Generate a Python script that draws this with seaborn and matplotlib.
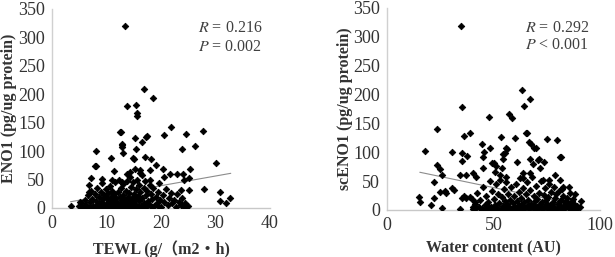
import matplotlib
matplotlib.use("Agg")
import matplotlib.pyplot as plt
import seaborn as sns
import pandas as pd
import numpy as np

# ---------------- data ----------------
tewl_x = [13.4, 16.8, 18.5, 13.7, 15.5, 15.6, 15.6, 12.6, 21.9, 27.7, 24.6, 20.6, 17.3, 15.2,
          26.3, 23.8, 12.8, 12.9, 16.5, 8.1, 30.0, 8.1, 10.9, 13.1, 14.8, 15.4, 17.0, 18.1,
          19.0, 20.4, 21.7, 22.9, 24.0, 25.3, 25.1, 24.2, 23.7, 25.2, 27.9, 30.8, 30.9, 31.9,
          32.7, 7.1, 6.8, 11.4, 13.7, 16.1, 18.0, 20.6, 3.4, 5.2, 5.5,
          17.4, 15.0, 7.9, 9.2, 11.0, 14.4, 16.2, 18.0, 12.8, 6.7, 12.5, 12.8,
          5.0, 5.3, 5.8, 6.0, 6.3, 6.6, 6.9, 7.0, 7.2, 7.4, 7.6, 7.8,
          8.0, 8.1, 8.3, 8.4, 8.6, 8.7, 8.9, 9.0, 9.1, 9.2, 9.4, 9.5, 9.6, 9.8, 9.9,
          10.0, 10.1, 10.2, 10.3, 10.4, 10.5, 10.6, 10.7, 10.8, 10.9, 11.0, 11.1, 11.2, 11.3,
          11.4, 11.5, 11.6, 11.7, 11.8, 11.9,
          12.0, 12.1, 12.2, 12.3, 12.4, 12.5, 12.6, 12.7, 12.8, 12.9, 13.0, 13.1, 13.2, 13.3,
          13.4, 13.5, 13.6, 13.7, 13.8, 13.9,
          14.0, 14.1, 14.2, 14.3, 14.4, 14.5, 14.6, 14.7, 14.8, 14.9, 15.0, 15.1, 15.2, 15.3,
          15.4, 15.5, 15.6, 15.7, 15.8, 15.9,
          16.0, 16.2, 16.3, 16.5, 16.6, 16.8, 16.9, 17.0, 17.2, 17.3, 17.5, 17.7, 17.9,
          18.0, 18.2, 18.4, 18.6, 18.8, 19.0, 19.2, 19.4, 19.6, 19.8, 20.0, 20.3, 20.6, 20.9,
          21.2, 21.5, 21.8, 22.1, 22.4, 22.7, 23.0, 23.3, 23.6, 23.9, 24.2, 24.4, 24.6, 24.9,
          6.5, 7.5, 8.5, 9.3, 10.6, 11.4, 12.4, 13.1, 14.4, 15.4, 16.4, 17.4, 18.4, 19.5,
          12.0, 10.0, 9.0, 11.0, 13.6, 14.9, 16.8]
eno1_y = [320, 210, 194, 180, 182, 167, 162, 134, 142, 135, 131, 128, 125, 123,
          109, 103, 107, 113, 116, 100, 80, 74, 88, 96, 88, 103, 90, 86,
          76, 69, 60, 59, 60, 68, 53, 49, 31, 31, 34, 29, 13, 8,
          18, 53, 40, 65, 60, 62, 66, 55, 4, 11, 2,
          127, 86, 74, 51, 49, 64, 67, 49, 46, 29, 134, 111,
          3, 8, 1, 14, 5, 22, 2, 10, 30, 16, 4, 25,
          1, 12, 36, 7, 19, 3, 28, 10, 44, 1, 15, 6, 22, 2, 33,
          9, 18, 4, 27, 1, 12, 38, 6, 20, 3, 14, 30, 8, 1,
          24, 10, 45, 4, 17, 2,
          11, 28, 6, 50, 19, 1, 35, 9, 14, 3, 23, 42, 7, 16,
          2, 30, 11, 48, 5, 20,
          1, 13, 26, 55, 8, 37, 3, 18, 45, 10, 25, 2, 68, 15,
          33, 6, 50, 21, 1, 40,
          12, 28, 4, 58, 17, 35, 8, 47, 22, 2, 30, 12, 40,
          5, 24, 15, 36, 3, 20, 9, 28, 44, 14, 2, 22, 10, 33,
          5, 18, 27, 8, 14, 2, 24, 10, 5, 17, 2, 8, 1, 4,
          0.5, 2, 1, 4, 2, 5, 3, 1, 4, 2, 1, 6, 1, 3,
          0.5, 0.5, 6, 7, 8, 0.5, 3]

water_x = [34.6, 63.2, 67.1, 64.4, 35.4, 57.4, 58.9, 48.0, 23.4, 36.2, 39.2, 53.4, 59.9,
           65.5, 66.6, 67.6, 79.8, 44.4, 56.4, 48.4, 17.7, 30.3, 35.1, 37.7, 35.4, 45.6,
           45.0, 60.8, 69.2, 71.0, 73.8, 81.5, 49.5, 51.3, 54.3, 55.3, 45.0, 40.4, 42.0,
           34.2, 37.0, 23.4, 24.8, 26.0, 22.1, 24.9, 27.4, 30.3, 31.4, 15.0, 15.4, 20.7,
           22.1, 25.9, 27.6, 34.5, 35.0, 36.2, 37.3, 38.9, 40.1, 41.2, 40.4, 82.8, 85.9,
           87.5, 90.9, 90.6,
           65.2, 69.9, 75.2, 56.1, 54.5, 67.1, 71.5, 68.6, 71.8, 81.2, 50.2, 53.8, 53.0,
           50.6, 56.1, 63.9, 67.1, 78.8, 81.2, 76.2, 73.1, 63.9, 85.6, 82.0, 88.2,
           40.5, 41.5, 42.3, 43.0, 43.8, 44.5, 45.2, 45.8, 46.5, 47.0, 47.6, 48.2, 48.8,
           49.4, 49.9,
           50.3, 50.8, 51.2, 51.7, 52.1, 52.6, 53.0, 53.4, 53.9, 54.3, 54.8, 55.2, 55.7,
           56.1, 56.5, 57.0, 57.4, 57.9, 58.3, 58.8, 59.2, 59.7,
           60.1, 60.5, 60.9, 61.3, 61.8, 62.2, 62.6, 63.0, 63.5, 63.9, 64.3, 64.7, 65.1,
           65.6, 66.0, 66.4, 66.8, 67.3, 67.7, 68.1, 68.5, 68.9, 69.4, 69.8,
           70.2, 70.6, 71.0, 71.5, 71.9, 72.3, 72.7, 73.1, 73.6, 74.0, 74.4, 74.8, 75.2,
           75.7, 76.1, 76.5, 76.9, 77.3, 77.8, 78.2, 78.6, 79.0, 79.5, 79.9,
           80.3, 80.7, 81.2, 81.6, 82.0, 82.5, 82.9, 83.4, 83.8, 84.3, 84.8, 85.2, 85.7,
           86.2, 86.7, 87.2, 87.8, 88.4, 89.0, 89.6,
           45.0, 48.0, 52.0, 55.0, 58.0, 61.0, 64.0, 67.0, 70.0, 73.0, 76.0, 79.0, 82.0,
           85.0, 42.0, 47.0, 57.0, 63.0, 69.0, 75.0, 81.0]
sceno1_y = [318, 208, 193, 181, 179, 167, 159, 161, 140, 128, 133, 127, 125,
            134, 117, 114, 121, 114, 106, 108, 102, 100, 99, 94, 85, 101,
            91, 83, 107, 87, 84, 91, 81, 76, 88, 98, 73, 64, 58,
            61, 60, 78, 71, 61, 48, 32, 33, 38, 34, 23, 13, 9,
            21, 3, 29, 1, 21, 24, 20, 22, 19, 14, 6, 39, 29,
            19, 16, 6,
            134, 108, 123, 107, 97, 88, 88, 79, 72, 91, 81, 72, 61,
            66, 58, 64, 64, 61, 52, 52, 52, 55, 40, 36, 27,
            2, 11, 30, 5, 18, 1, 40, 9, 24, 3, 14, 50, 6,
            33, 1,
            19, 8, 45, 3, 27, 12, 52, 1, 22, 7, 36, 15, 2,
            48, 10, 28, 4, 18, 40, 1, 12, 25,
            6, 45, 16, 2, 32, 9, 55, 20, 1, 38, 13, 4, 27,
            48, 8, 18, 1, 35, 11, 58, 3, 24, 15, 42,
            6, 19, 2, 30, 10, 50, 14, 1, 26, 7, 38, 17, 3,
            22, 45, 9, 31, 1, 13, 40, 5, 20, 28, 2,
            11, 33, 6, 18, 1, 25, 9, 14, 3, 20, 8, 12, 2,
            6, 15, 4, 10, 1, 7, 3,
            0.5, 2, 0.5, 4, 1, 0.5, 3, 5, 0.5, 4, 2, 0.5, 3,
            5, 3, 8, 7, 9, 8, 11, 15]

# trend lines (end points)
fit1_x = [3.4, 32.8]
fit1_y = [11, 61]
fit2_x = [15.4, 90.0]
fit2_y = [65.4, 8.2]

x_ticks_1 = [0, 10, 20, 30, 40]
x_ticks_2 = [0, 50, 100]
y_ticks = [0, 50, 100, 150, 200, 250, 300, 350]

# ---------------- style ----------------
sns.set_theme(style="white")
plt.rcParams['font.family'] = ['Liberation Serif', 'Noto Sans CJK JP', 'DejaVu Sans']
plt.rcParams['mathtext.fontset'] = 'stix'

W, H = 615, 257
fig = plt.figure(figsize=(W / 100, H / 100), dpi=100)

ax1 = fig.add_axes([52 / W, 1 - 208 / H, 218 / W, 199 / H])
ax2 = fig.add_axes([387 / W, 1 - 210 / H, 213 / W, 202 / H])

df1 = pd.DataFrame({"x": tewl_x, "y": eno1_y})
df2 = pd.DataFrame({"x": water_x, "y": sceno1_y})
fl1 = pd.DataFrame({"x": fit1_x, "y": fit1_y})
fl2 = pd.DataFrame({"x": fit2_x, "y": fit2_y})

tick_fs = 13
label_fs = 11.5
stat_fs = 11.5

panels = [
    (ax1, df1, fl1, x_ticks_1, 40, "TEWL (g/（m2・h)", "ENO1 (pg/ug protein)",
     r"$R$ = 0.216", r"$P$ = 0.002", 0.963, 0.905, 0.81),
    (ax2, df2, fl2, x_ticks_2, 100, "Water content (AU)", "scENO1 (pg/ug protein)",
     r"$R$ = 0.292", r"$P$ < 0.001", 0.948, 0.90, 0.817),
]
for ax, df, fl, xt, xmax, xlabel, ylabel, rtxt, ptxt, tx, ry, py in panels:
    sns.scatterplot(data=df, x="x", y="y", ax=ax, marker="D", s=11, color="black",
                    edgecolor="black", linewidth=0.6, zorder=3)
    sns.lineplot(data=fl, x="x", y="y", ax=ax, color="#8c8c8c", linewidth=0.8, zorder=2)
    ax.set_xlim(0, xmax)
    ax.set_ylim(0, 350)
    ax.set_xticks(xt)
    ax.set_yticks(y_ticks)
    ax.tick_params(axis="both", length=0, labelsize=tick_fs, pad=5)
    for lab in ax.get_xticklabels() + ax.get_yticklabels():
        lab.set_color("#333333")
    for s in ["top", "right"]:
        ax.spines[s].set_visible(False)
    ax.spines["left"].set_color("#d0d0d0")
    ax.spines["bottom"].set_color("#c8c8c8")
    ax.spines["left"].set_linewidth(1.0)
    ax.spines["bottom"].set_linewidth(1.0)
    ax.set_xlabel(xlabel, fontsize=label_fs, fontweight="bold", color="#333333")
    ax.set_ylabel(ylabel, fontsize=label_fs, fontweight="bold", color="#333333")
    ax.text(tx, ry, rtxt, transform=ax.transAxes, ha="right", va="center",
            fontsize=stat_fs, color="#404040")
    ax.text(tx, py, ptxt, transform=ax.transAxes, ha="right", va="center",
            fontsize=stat_fs, color="#404040")

ax1.yaxis.set_label_coords(-0.16, 0.5)
ax2.yaxis.set_label_coords(-0.16, 0.5)
ax1.xaxis.set_label_coords(0.5, -0.16)
ax2.xaxis.set_label_coords(0.5, -0.15)

fig.savefig("out.png", dpi=100)
